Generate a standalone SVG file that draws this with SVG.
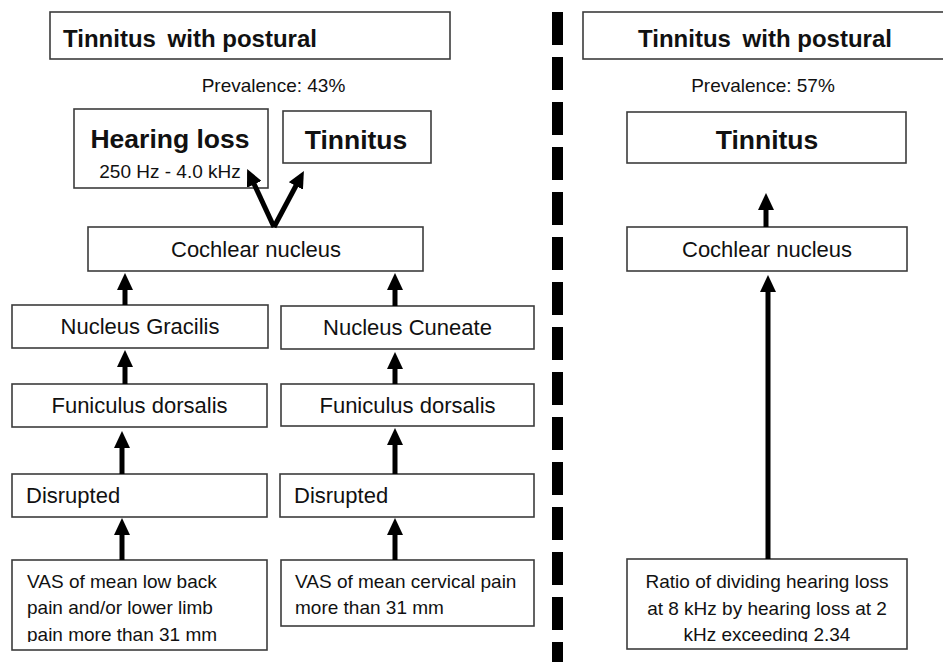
<svg xmlns="http://www.w3.org/2000/svg" width="943" height="662" viewBox="0 0 943 662">
<style>
.box{fill:#fff;stroke:#3c3c3c;stroke-width:1.6}
.t{font-family:"Liberation Sans",Arial,sans-serif;fill:#111}
.title{font-size:24px;font-weight:bold}
.big{font-size:26.5px;font-weight:bold}
.lbl{font-size:22px}
.sm{font-size:19px}
.c{text-anchor:middle}
.arrow{stroke:#000;stroke-width:5;fill:none;marker-end:url(#ah)}
</style>
<defs>
<marker id="ah" markerUnits="userSpaceOnUse" markerWidth="17" markerHeight="16" viewBox="0 0 17 16" refX="3" refY="8" orient="auto">
<path d="M0,0 L17,8 L0,16 z" fill="#000"/>
</marker>
<clipPath id="clipL"><rect x="0" y="0" width="943" height="642"/></clipPath>
</defs>
<rect width="943" height="662" fill="#fff"/>
<line id="divider" x1="557.5" y1="12" x2="557.5" y2="662" stroke="#000" stroke-width="11" stroke-dasharray="33 12"/>

<g id="title-left"><rect class="box" x="50" y="12" width="400" height="47"/><text class="t title" x="63" y="47">Tinnitus <tspan dx="5">with postural</tspan></text></g>
<g id="prev-left"><text class="t sm c" x="273.5" y="92">Prevalence: 43%</text></g>
<g id="hearing-loss"><rect class="box" x="74" y="109" width="194" height="79"/><text class="t big c" x="170" y="148">Hearing loss</text><text class="t sm c" x="170" y="178">250 Hz - 4.0 kHz</text></g>
<g id="tinnitus-left"><rect class="box" x="283" y="111" width="148" height="52"/><text class="t big c" x="356" y="149">Tinnitus</text></g>
<g id="cochlear-left"><rect class="box" x="88" y="227" width="335" height="44"/><text class="t lbl c" x="256" y="257">Cochlear nucleus</text></g>
<g id="gracilis"><rect class="box" x="12" y="305" width="256" height="43"/><text class="t lbl c" x="140" y="334">Nucleus Gracilis</text></g>
<g id="cuneate"><rect class="box" x="281" y="306" width="253" height="43"/><text class="t lbl c" x="407.5" y="335">Nucleus Cuneate</text></g>
<g id="funiculus-left"><rect class="box" x="12" y="384" width="255" height="43"/><text class="t lbl c" x="139.5" y="413">Funiculus dorsalis</text></g>
<g id="funiculus-right"><rect class="box" x="281" y="384" width="253" height="42"/><text class="t lbl c" x="407.5" y="413">Funiculus dorsalis</text></g>
<g id="disrupted-left"><rect class="box" x="12" y="474" width="255" height="43"/><text class="t lbl" x="26" y="503">Disrupted</text></g>
<g id="disrupted-right"><rect class="box" x="280" y="474" width="254" height="43"/><text class="t lbl" x="294" y="503">Disrupted</text></g>
<g id="vas-left"><rect class="box" x="12" y="560" width="255" height="90"/><g clip-path="url(#clipL)"><text class="t sm" x="27" y="588">VAS of mean low back</text><text class="t sm" x="27" y="614">pain and/or lower limb</text><text class="t sm" x="27" y="641">pain more than 31 mm</text></g></g>
<g id="vas-right"><rect class="box" x="281" y="560" width="253" height="66"/><text class="t sm" x="295" y="588">VAS of mean cervical pain</text><text class="t sm" x="295" y="614">more than 31 mm</text></g>

<g id="title-right"><rect class="box" x="583" y="12" width="370" height="47"/><text class="t title" x="638" y="47">Tinnitus <tspan dx="5">with postural</tspan></text></g>
<g id="prev-right"><text class="t sm c" x="763" y="92">Prevalence: 57%</text></g>
<g id="tinnitus-right"><rect class="box" x="627" y="112" width="279" height="51"/><text class="t big c" x="767" y="149">Tinnitus</text></g>
<g id="cochlear-right"><rect class="box" x="627" y="227" width="280" height="44"/><text class="t lbl c" x="767" y="257">Cochlear nucleus</text></g>
<g id="ratio"><rect class="box" x="627" y="559" width="280" height="90"/><g clip-path="url(#clipL)"><text class="t sm c" x="767" y="588">Ratio of dividing hearing loss</text><text class="t sm c" x="767" y="615">at 8 kHz by hearing loss at 2</text><text class="t sm c" x="767" y="641">kHz exceeding 2.34</text></g></g>

<g id="connectors">
<line class="arrow" x1="274" y1="227" x2="253" y2="181.6"/>
<line class="arrow" x1="274" y1="227" x2="297.3" y2="183.3"/>
<line class="arrow" x1="125" y1="305" x2="125" y2="287"/>
<line class="arrow" x1="125" y1="384" x2="125" y2="364"/>
<line class="arrow" x1="122" y1="474" x2="122" y2="445"/>
<line class="arrow" x1="122" y1="560" x2="122" y2="532"/>
<line class="arrow" x1="395" y1="306" x2="395" y2="287"/>
<line class="arrow" x1="395" y1="384" x2="395" y2="366"/>
<line class="arrow" x1="395" y1="474" x2="395" y2="442"/>
<line class="arrow" x1="395" y1="560" x2="395" y2="532"/>
<line class="arrow" x1="766" y1="227" x2="766" y2="207"/>
<line class="arrow" x1="768" y1="559" x2="768" y2="289"/>
</g>
</svg>
